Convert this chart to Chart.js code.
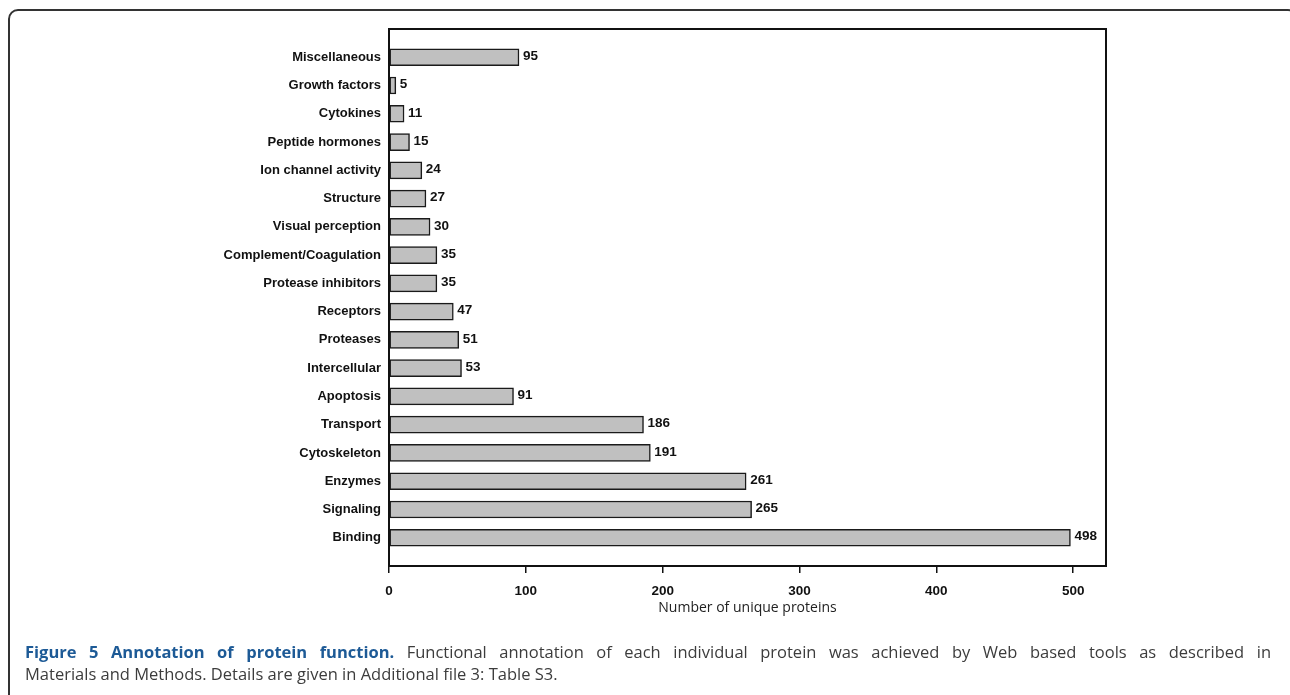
<!DOCTYPE html>
<html>
<head>
<meta charset="utf-8">
<script src="https://cdn.jsdelivr.net/npm/chart.js@4/dist/chart.umd.min.js"></script>
<style>
  html, body { margin: 0; padding: 0; background: #fff; }
  body { width: 1290px; height: 695px; position: relative; overflow: hidden; }
  #frame {
    position: absolute; left: 8px; top: 9px; width: 1290px; height: 800px;
    border: 2px solid #333; border-radius: 10px; box-sizing: border-box;
  }
  #wrap { position: absolute; left: 0; top: 0; width: 1290px; height: 695px; }
  #caption {
    position: absolute; left: 25px; top: 641px; width: 1246px;
    font-family: "Open Sans", sans-serif; font-size: 16.5px; line-height: 22px;
    color: #3c3c3c;
  }
  #caption .l1 { text-align: justify; text-align-last: justify; }
  #caption b { color: #1d5a96; }
</style>
</head>
<body>
<div id="frame"></div>
<div id="wrap"><canvas id="proteinChart" width="1290" height="695"></canvas></div>
<div id="caption">
  <div class="l1"><b>Figure 5 Annotation of protein function.</b> Functional annotation of each individual protein was achieved by Web based tools as described in</div>
  <div>Materials and Methods. Details are given in Additional file 3: Table S3.</div>
</div>
<script>
// categories top to bottom, as in the figure
const categories = ["Miscellaneous", "Growth factors", "Cytokines", "Peptide hormones",
  "Ion channel activity", "Structure", "Visual perception", "Complement/Coagulation",
  "Protease inhibitors", "Receptors", "Proteases", "Intercellular", "Apoptosis",
  "Transport", "Cytoskeleton", "Enzymes", "Signaling", "Binding"];
const proteinCounts = [95, 5, 11, 15, 24, 27, 30, 35, 35, 47, 51, 53, 91, 186, 191, 261, 265, 498];
const xTicks = [0, 100, 200, 300, 400, 500];
const xTitle = "Number of unique proteins";

const labelFont = { family: "'Liberation Sans', Arial, sans-serif", size: 13, weight: "bold" };

// frame round the plot area + value labels at the bar ends
const plotExtras = {
  id: 'plotExtras',
  afterDatasetsDraw(chart) {
    const ctx = chart.ctx;
    const a = chart.chartArea;
    ctx.save();
    ctx.strokeStyle = '#111';
    ctx.lineWidth = 2;
    ctx.strokeRect(a.left, a.top, a.right - a.left, a.bottom - a.top);
    ctx.font = "bold 13.5px 'Liberation Sans', Arial, sans-serif";
    ctx.fillStyle = '#111';
    ctx.textBaseline = 'middle';
    ctx.textAlign = 'left';
    chart.getDatasetMeta(0).data.forEach((bar, i) => {
      ctx.fillText(String(proteinCounts[i]), bar.x + 4, bar.y - 1);
    });
    ctx.restore();
  }
};

new Chart(document.getElementById('proteinChart'), {
  type: 'bar',
  data: {
    datasets: [{
      data: proteinCounts.map((v, i) => ({ x: v, y: i })),
      backgroundColor: '#c0c0c0',
      borderColor: '#1a1a1a',
      borderWidth: 1.5,
      borderSkipped: false,
      barThickness: 17
    }]
  },
  options: {
    indexAxis: 'y',
    responsive: false,
    animation: false,
    layout: { padding: { left: 0, top: 29, right: 184, bottom: 79 } },
    plugins: { legend: { display: false }, tooltip: { enabled: false } },
    scales: {
      x: {
        type: 'linear',
        min: 0,
        max: 524,
        grid: { display: true, drawOnChartArea: false, drawTicks: true, tickLength: 7, color: '#111', lineWidth: 1.5 },
        border: { display: false },
        ticks: {
          stepSize: 100,
          includeBounds: false,
          padding: 10,
          color: '#111',
          font: { family: "'Liberation Sans', Arial, sans-serif", size: 13.5, weight: "bold" },
          callback: (v) => xTicks.includes(v) ? String(v) : ''
        },
        title: {
          display: true,
          text: xTitle,
          color: '#222',
          padding: { top: 2, bottom: 0 },
          font: { family: "'Open Sans', sans-serif", size: 14 }
        },
        afterFit(scale) { scale.height = 50; }
      },
      y: {
        type: 'linear',
        reverse: true,
        offset: false,
        min: -1,
        max: 18,
        grid: { display: false, drawTicks: false },
        border: { display: false },
        ticks: {
          stepSize: 1,
          autoSkip: false,
          padding: 8,
          color: '#111',
          font: labelFont,
          callback: (v) => categories[v] || ''
        },
        afterFit(scale) { scale.width = 389; }
      }
    }
  },
  plugins: [plotExtras]
});
</script>
</body>
</html>
